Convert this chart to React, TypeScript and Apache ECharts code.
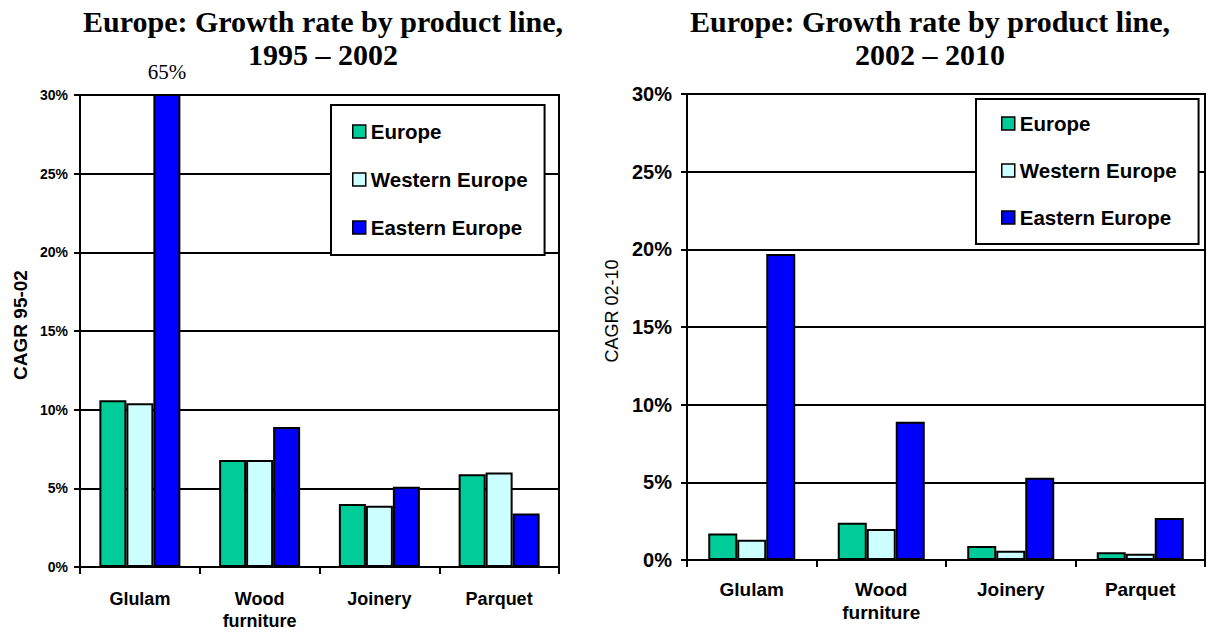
import React, { useEffect, useRef } from "react";
import * as echarts from "echarts";

// Product lines shown on both charts
const categories = ["Glulam", "Wood\nfurniture", "Joinery", "Parquet"];
const seriesNames = ["Europe", "Western Europe", "Eastern Europe"];
const colors = ["#00CC99", "#CCFFFF", "#0000FF"];

// CAGR 1995–2002 (%)
const europe9502 = [10.6, 6.8, 4.0, 5.9];
const western9502 = [10.4, 6.8, 3.9, 6.0];
const eastern9502 = [65, 8.9, 5.1, 3.4];

// CAGR 2002–2010 (%)
const europe0210 = [1.7, 2.4, 0.9, 0.5];
const western0210 = [1.3, 2.0, 0.6, 0.4];
const eastern0210 = [19.7, 8.9, 5.3, 2.7];

const yTicks = { min: 0, max: 30, interval: 5 };

const SANS = "'Liberation Sans', Arial, sans-serif";
const SERIF = "'Liberation Serif', 'Times New Roman', serif";

export default function App() {
  const ref = useRef<HTMLDivElement>(null);

  useEffect(() => {
    if (!ref.current) return;
    const chart = echarts.init(ref.current, undefined, { renderer: "svg" });

    const black = "#000";
    const makeX = (gridIndex: number, fontSize: number, margin: number) => ({
      type: "category" as const,
      gridIndex,
      data: categories,
      boundaryGap: true,
      axisLine: { show: true, lineStyle: { color: black, width: 2 } },
      axisTick: { show: true, alignWithLabel: false, length: 7, lineStyle: { color: black, width: 2 } },
      axisLabel: {
        color: black,
        fontFamily: SANS,
        fontWeight: "bold" as const,
        fontSize,
        lineHeight: fontSize + 4,
        margin,
        interval: 0,
      },
      splitLine: { show: false },
    });

    const makeY = (
      gridIndex: number,
      labelSize: number,
      labelMargin: number,
      name: string,
      nameWeight: "bold" | "normal",
      nameSize: number,
      nameGap: number,
      namePad: number[]
    ) => ({
      type: "value" as const,
      gridIndex,
      min: yTicks.min,
      max: yTicks.max,
      interval: yTicks.interval,
      name,
      nameLocation: "middle" as const,
      nameGap,
      nameRotate: 90,
      nameTextStyle: {
        color: black,
        fontFamily: SANS,
        fontWeight: nameWeight,
        fontSize: nameSize,
        padding: namePad,
      },
      axisLine: { show: true, lineStyle: { color: black, width: 2 } },
      axisTick: { show: true, length: 6, lineStyle: { color: black, width: 2 } },
      axisLabel: {
        color: black,
        fontFamily: SANS,
        fontWeight: "bold" as const,
        fontSize: labelSize,
        formatter: "{value}%",
        margin: labelMargin,
      },
      splitLine: { show: true, lineStyle: { color: black, width: 2 } },
    });

    const makeSeries = (
      data: (number | object)[][],
      gridIndex: number,
      barWidth: number
    ) =>
      data.map((d, i) => ({
        name: seriesNames[i],
        type: "bar" as const,
        xAxisIndex: gridIndex,
        yAxisIndex: gridIndex,
        data: d,
        barWidth,
        barGap: "0%",
        clip: true,
        itemStyle: { color: colors[i], borderColor: black, borderWidth: 2 },
      }));

    // The Eastern Europe glulam bar runs off the scale; its value is printed above it
    const eastern9502Data: (number | object)[] = eastern9502.map((v, i) =>
      i === 0
        ? {
            value: v,
            label: {
              show: true,
              position: "top",
              distance: 12,
              formatter: "{c}%",
              fontFamily: SERIF,
              fontSize: 21,
              color: black,
            },
          }
        : v
    );

    const legendBase = {
      orient: "vertical" as const,
      data: seriesNames,
      icon: "rect",
      itemWidth: 13,
      itemHeight: 13,
      backgroundColor: "#fff",
      borderColor: black,
      borderWidth: 2,
      selectedMode: false,
      itemStyle: { borderColor: black, borderWidth: 1.5 },
      textStyle: {
        color: black,
        fontFamily: SANS,
        fontWeight: "bold" as const,
        fontSize: 20.5,
        lineHeight: 20,
      },
    };

    const titleStyle = {
      fontFamily: SERIF,
      fontWeight: "bold" as const,
      fontSize: 30,
      lineHeight: 33,
      color: black,
    };

    chart.setOption({
      animation: false,
      backgroundColor: "#fff",
      title: [
        {
          text: "Europe: Growth rate by product line,\n1995 – 2002",
          left: 318,
          top: 0,
          textAlign: "center",
          textStyle: titleStyle,
        },
        {
          text: "Europe: Growth rate by product line,\n2002 – 2010",
          left: 925,
          top: 0,
          textAlign: "center",
          textStyle: titleStyle,
        },
      ],
      legend: [
        { ...legendBase, left: 331, top: 105, itemGap: 27, padding: [16, 17, 17, 21] },
        { ...legendBase, left: 976, top: 99, itemGap: 26, padding: [14, 22, 16, 25] },
      ],
      grid: [
        {
          left: 80,
          right: 1207 - 559,
          top: 95,
          bottom: 632 - 567,
          show: true,
          borderColor: black,
          borderWidth: 2,
          backgroundColor: "transparent",
        },
        {
          left: 687,
          right: 2,
          top: 94,
          bottom: 632 - 560,
          show: true,
          borderColor: black,
          borderWidth: 2,
          backgroundColor: "transparent",
        },
      ],
      xAxis: [makeX(0, 18, 21), makeX(1, 19, 18)],
      yAxis: [
        makeY(0, 14, 12, "CAGR 95-02", "bold", 19, 50, [0, 0, 0, 12]),
        makeY(1, 20, 15, "CAGR 02-10", "normal", 18, 66, [0, 0, 0, 32]),
      ],
      series: [
        ...makeSeries([europe9502, western9502, eastern9502Data], 0, 27),
        ...makeSeries([europe0210, western0210, eastern0210], 1, 29),
      ],
    });

    return () => chart.dispose();
  }, []);

  return (
    <div
      ref={ref}
      style={{ position: "fixed", left: 0, top: 0, width: 1207, height: 632 }}
    />
  );
}
